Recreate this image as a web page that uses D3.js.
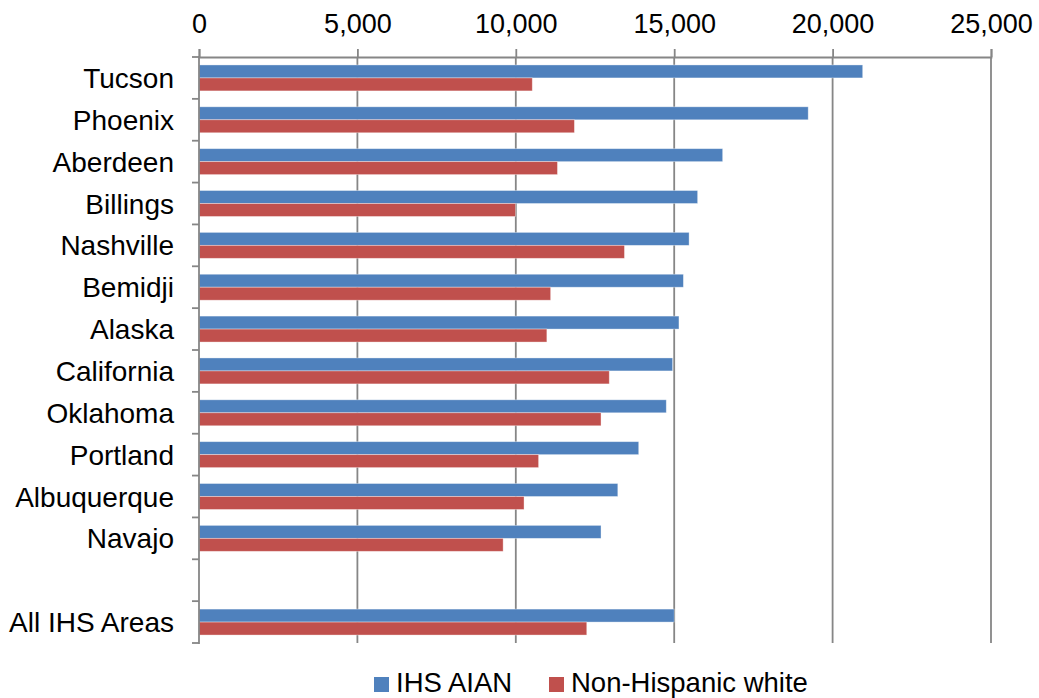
<!DOCTYPE html>
<html>
<head>
<meta charset="utf-8">
<script src="https://cdn.jsdelivr.net/npm/d3@7"></script>
<style>
  html, body { margin: 0; padding: 0; background: #ffffff; }
  svg { display: block; }
  text { font-family: "Liberation Sans", Arial, sans-serif; fill: #000; }
</style>
</head>
<body>
<svg id="chart" width="1039" height="698"></svg>
<script>
// IHS areas (an empty row separates the areas from the overall figure)
const areas = ["Tucson", "Phoenix", "Aberdeen", "Billings", "Nashville", "Bemidji",
  "Alaska", "California", "Oklahoma", "Portland", "Albuquerque", "Navajo", "", "All IHS Areas"];
const seriesNames = ["IHS AIAN", "Non-Hispanic white"];
const aianValues = [20950, 19230, 16530, 15740, 15470, 15290, 15150, 14950, 14750, 13880, 13220, 12690, null, 15000];
const whiteValues = [10520, 11850, 11315, 9990, 13430, 11100, 10980, 12950, 12690, 10720, 10260, 9600, null, 12240];
const xTicks = [0, 5000, 10000, 15000, 20000, 25000];
const colors = ["#4F81BD", "#C0504D"];

const svg = d3.select("#chart");
const margin = { top: 57, left: 199, right: 48, bottom: 55 };
const width = 1039, height = 698;
const plotRight = width - margin.right;
const plotBottom = height - margin.bottom;

// Row keys keep the blank row distinct inside the band scale
const rows = areas.map((name, i) => ({ key: "r" + i, name, values: [aianValues[i], whiteValues[i]] }));

const x = d3.scaleLinear().domain([0, 25000]).range([margin.left, plotRight]);
const y = d3.scaleBand().domain(rows.map(r => r.key))
  .range([margin.top, plotBottom]).paddingInner(0.38).paddingOuter(0.19);
const yStep = y.step();
const ySub = d3.scaleBand().domain(seriesNames).range([0, y.bandwidth()]);

const gridColor = "#868686";

// vertical gridlines
svg.append("g").selectAll("line").data(xTicks.slice(1)).join("line")
  .attr("x1", d => x(d)).attr("x2", d => x(d))
  .attr("y1", margin.top).attr("y2", plotBottom)
  .attr("stroke", gridColor).attr("stroke-width", 1.8);

// bars
const groups = svg.append("g").selectAll("g").data(rows).join("g")
  .attr("transform", d => `translate(0,${y(d.key)})`);
groups.selectAll("rect")
  .data(d => d.values.map((v, j) => ({ v, s: seriesNames[j], j })).filter(e => e.v != null))
  .join("rect")
  .attr("x", x(0))
  .attr("y", e => ySub(e.s))
  .attr("width", e => x(e.v) - x(0))
  .attr("height", ySub.bandwidth())
  .attr("fill", e => colors[e.j])
  .attr("stroke", "rgba(255,255,255,0.45)")
  .attr("stroke-width", 0.8);

// top value axis
const xAxis = d3.axisTop(x).tickValues(xTicks).tickSize(8).tickPadding(16)
  .tickFormat(d3.format(","));
const gx = svg.append("g").attr("transform", `translate(0,${margin.top})`).call(xAxis);
gx.select(".domain").attr("stroke", gridColor).attr("stroke-width", 1.8);
gx.selectAll(".tick line").attr("stroke", gridColor).attr("stroke-width", 1.8);
gx.selectAll(".tick text").attr("font-size", 27).attr("font-family", "Liberation Sans, Arial, sans-serif").attr("fill", "#000");

// left category axis: ticks sit on the row boundaries
const edges = d3.range(rows.length + 1).map(i => margin.top + i * yStep);
const gy = svg.append("g");
gy.append("line")
  .attr("x1", margin.left).attr("x2", margin.left)
  .attr("y1", margin.top - 1).attr("y2", plotBottom + 1)
  .attr("stroke", gridColor).attr("stroke-width", 1.8);
gy.selectAll("line.tick").data(edges).join("line").attr("class", "tick")
  .attr("x1", margin.left - 7).attr("x2", margin.left)
  .attr("y1", d => d).attr("y2", d => d)
  .attr("stroke", gridColor).attr("stroke-width", 1.8);
gy.selectAll("text").data(rows).join("text")
  .attr("x", margin.left - 25)
  .attr("y", d => y(d.key) + y.bandwidth() / 2)
  .attr("dy", "0.36em")
  .attr("text-anchor", "end")
  .attr("font-size", 28)
  .text(d => d.name);

// legend
const legendItems = [
  { name: seriesNames[0], color: colors[0], x: 374 },
  { name: seriesNames[1], color: colors[1], x: 549 }
];
const lg = svg.append("g").selectAll("g").data(legendItems).join("g")
  .attr("transform", d => `translate(${d.x},677)`);
lg.append("rect").attr("width", 15).attr("height", 15).attr("fill", d => d.color);
lg.append("text").attr("x", 22).attr("y", 15).attr("font-size", 27.5).text(d => d.name);
</script>
</body>
</html>
